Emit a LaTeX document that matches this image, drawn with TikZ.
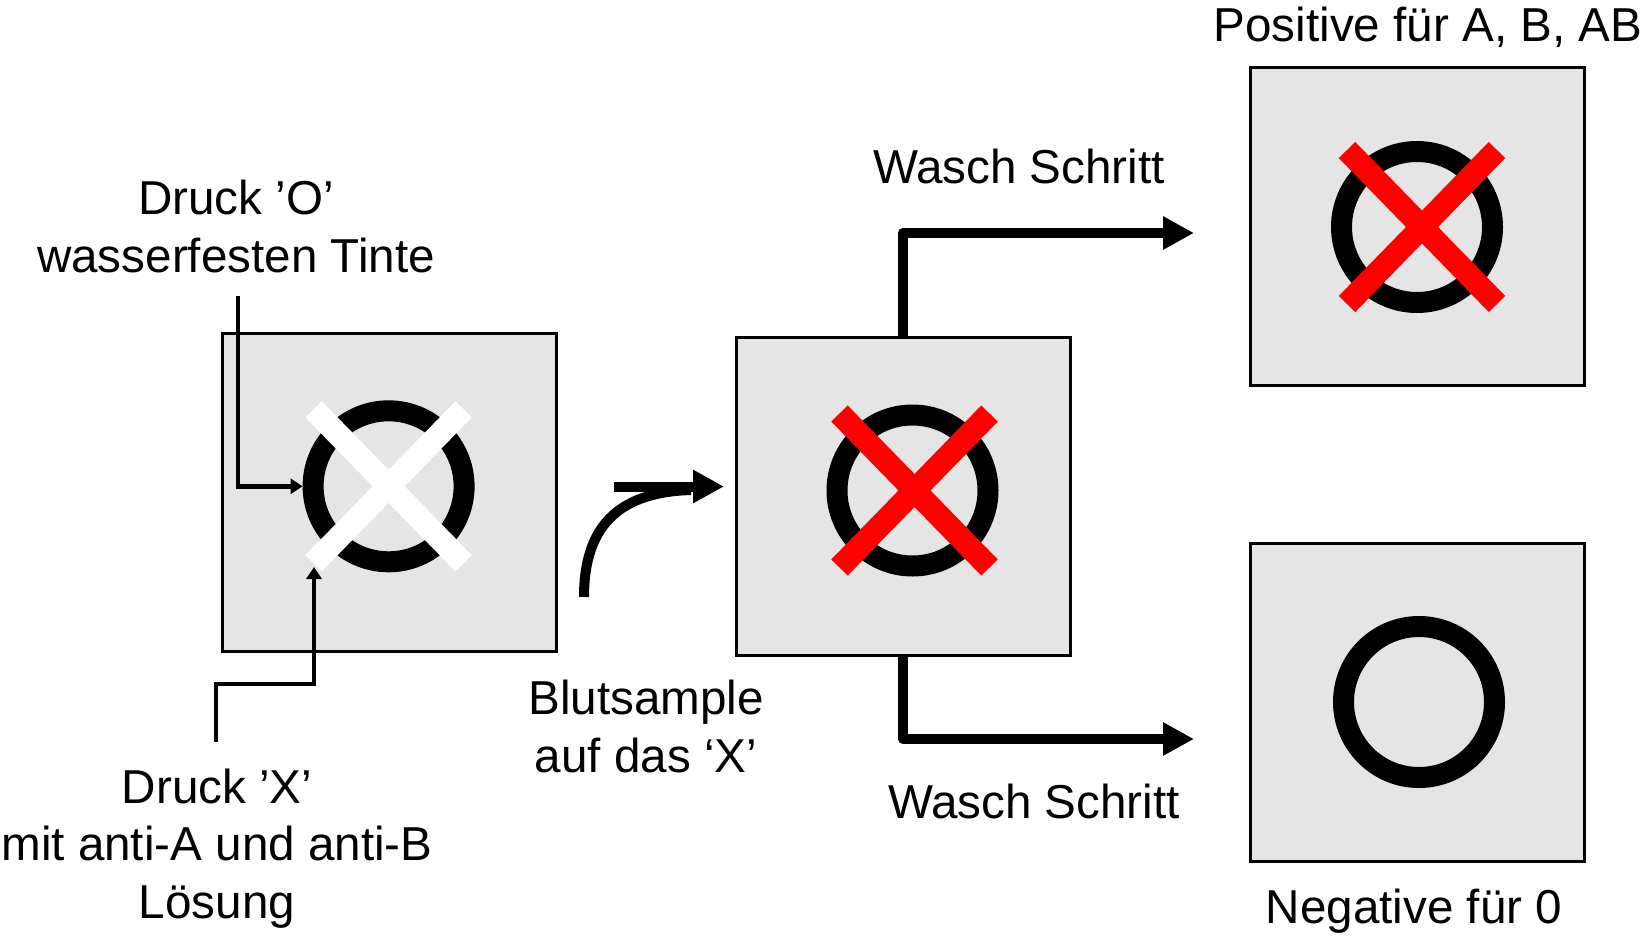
\documentclass[tikz,border=0pt]{standalone}
\usepackage{fontspec}
\setmainfont{Liberation Sans}
\usetikzlibrary{arrows.meta}
\definecolor{inkred}{RGB}{255,0,0}
\definecolor{cardgray}{RGB}{229,229,229}

\tikzset{
  card/.style={draw, line width=3pt, fill=cardgray, inner sep=0pt,
    minimum width=334pt, minimum height=318pt},
  ring/.style={circle, draw, line width=21pt, inner sep=0pt, minimum size=151pt},
  cross/.style={line width=23pt, line cap=butt},
  lbl/.style={font=\fontsize{47.6}{57.5}\selectfont, inner sep=0pt, align=center},
  pin arrow/.style={line width=4.5pt, -{Triangle[length=12pt,width=15pt]}},
  bold arrow/.style={line width=10pt, line join=round, -{Triangle[length=31pt,width=31.4pt]}}
}

\begin{document}
\begin{tikzpicture}[x=1pt,y=-1pt]
  \useasboundingbox (0,0) rectangle (1647,937);

  % The four cards.
  \node[card] (b1) at (389,492) {};
  \node[card] (b2) at (903,496.5) {};
  \node[card] (b3) at (1417,226) {};
  \node[card] (b4) at (1417,702) {};

  % Printed 'O' rings and the 'X' on top of them.
  \node[ring] (c1) at (388.6,486.3) {};
  \node[ring] (c2) at (912.5,490.5) {};
  \node[ring] (c3) at (1417,227) {};
  \node[ring] (c4) at (1419,702) {};
  \foreach \c/\dx/\col in {c1/0/white,c2/2/inkred,c3/5/inkred}
    \draw[cross,color=\col] (\c) ++(\dx-75,-77) -- ++(150,154)
                            (\c) ++(\dx+75,-77) -- ++(-150,154);

  % Labels.
  \node[lbl] (inkO) at (236,226.5) {Druck ’O’\\wasserfesten Tinte};
  \node[lbl] (inkX) at (217,848.5) {Druck ’X’\\mit anti-A und anti-B\\Lösung};
  \node[lbl] (blood) at (646,726.5) {Blutsample\\auf das ‘X’};
  \node[lbl,anchor=base] (washup) at (1019,183) {Wasch Schritt};
  \node[lbl,anchor=base] (washdown) at (1034,818) {Wasch Schritt};
  \node[lbl,anchor=base] (pos) at (1428,41) {Positive für A, B, AB};
  \node[lbl,anchor=base] (neg) at (1414,923) {Negative für 0};

  % Pointers to the printed marks.
  \coordinate (inkO foot) at (238,296);
  \draw[pin arrow] (inkO foot) |- (c1.west);
  \coordinate (inkX foot) at (216,742);
  \coordinate (arm) at (314,567);
  \draw[pin arrow] (inkX foot) -- ++(0,-58) -| (arm);

  % Adding the blood sample.
  \coordinate (drop) at (584,597);
  \coordinate (drop bar) at (614,486.5);
  \coordinate (drop tip) at (724,486.5);
  \draw[bold arrow] (drop bar) -- (drop tip);
  \draw[line width=10pt] (drop) .. controls (584,520) and (625,492) .. (691,490);

  % The two washing outcomes.
  \coordinate (up tip) at (1194,233);
  \coordinate (down tip) at (1194,739);
  \draw[bold arrow] (b2.north) |- (up tip);
  \draw[bold arrow] (b2.south) |- (down tip);
\end{tikzpicture}
\end{document}
